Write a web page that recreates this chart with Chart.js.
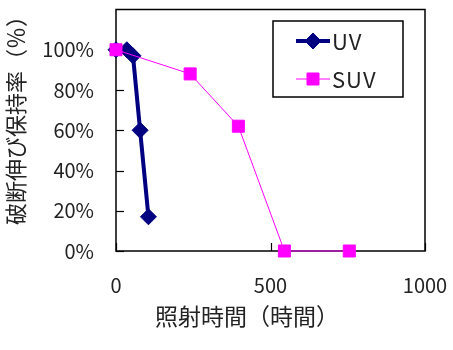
<!DOCTYPE html>
<html>
<head>
<meta charset="utf-8">
<script src="https://cdn.jsdelivr.net/npm/chart.js@4/dist/chart.umd.min.js"></script>
<style>
  html, body { margin: 0; padding: 0; background: #fff; }
  #wrap { width: 453px; height: 350px; }
</style>
</head>
<body>
<div id="wrap"><canvas id="c" width="453" height="350"></canvas></div>
<script>
// Data
const seriesNames = ['UV', 'SUV'];
const uvHours = [0, 35, 55, 78, 105];
const uvRetention = [100, 100, 97, 60, 17];
const suvHours = [0, 240, 396, 545, 755];
const suvRetention = [100, 88, 62, 0, 0];
const xTicks = [0, 500, 1000];
const yTicks = [0, 20, 40, 60, 80, 100];
const xTitle = '照射時間（時間）';
const yTitle = '破断伸び保持率（％）';

const FONT = '"Noto Sans CJK JP", "Noto Sans", sans-serif';
const UV_COLOR = '#000080';
const SUV_COLOR = '#FF00FF';

const toPoints = (xs, ys) => xs.map((x, i) => ({ x: x, y: ys[i] }));

const decor = {
  id: 'decor',
  beforeDatasetsDraw(chart) {
    const { ctx, chartArea: a, scales } = chart;
    ctx.save();
    ctx.strokeStyle = '#000';
    ctx.lineWidth = 1.5;
    ctx.strokeRect(a.left, a.top, a.right - a.left, a.bottom - a.top);
    ctx.lineWidth = 1.2;
    // inside tick marks
    yTicks.forEach(v => {
      const y = Math.round(scales.y.getPixelForValue(v)) + 0.5;
      ctx.beginPath(); ctx.moveTo(a.left, y); ctx.lineTo(a.left + 8, y); ctx.stroke();
    });
    xTicks.forEach(v => {
      const x = Math.round(scales.x.getPixelForValue(v)) + 0.5;
      ctx.beginPath(); ctx.moveTo(x, a.bottom); ctx.lineTo(x, a.bottom - 8); ctx.stroke();
    });
    ctx.restore();
  },
  afterDraw(chart) {
    const { ctx } = chart;
    ctx.save();
    ctx.fillStyle = '#222';
    // axis titles
    ctx.font = '23px ' + FONT;
    ctx.textAlign = 'center';
    ctx.textBaseline = 'middle';
    ctx.fillText(xTitle, 247, 316);
    ctx.save();
    ctx.font = '22px ' + FONT;
    ctx.translate(16, 115);
    ctx.rotate(-Math.PI / 2);
    ctx.fillText(yTitle, 0, 0);
    ctx.restore();

    // legend
    const lx = 273, ly = 21, lw = 130, lh = 76;
    ctx.fillStyle = '#fff';
    ctx.fillRect(lx, ly, lw, lh);
    ctx.strokeStyle = '#000';
    ctx.lineWidth = 1.5;
    ctx.strokeRect(lx, ly, lw, lh);
    const ds = chart.data.datasets;
    const rows = [41, 79];
    ds.forEach((d, i) => {
      const y = rows[i];
      ctx.strokeStyle = d.borderColor;
      ctx.lineWidth = d.borderWidth;
      ctx.beginPath(); ctx.moveTo(296, y); ctx.lineTo(330, y); ctx.stroke();
      ctx.fillStyle = d.backgroundColor;
      ctx.strokeStyle = d.borderColor;
      ctx.lineWidth = 1;
      Chart.helpers.drawPoint(ctx, { pointStyle: d.pointStyle, radius: d.pointRadius, borderWidth: 1 }, 313, y);
      ctx.fillStyle = '#222';
      ctx.font = '22px ' + FONT;
      ctx.textAlign = 'left';
      ctx.letterSpacing = '1px';
      ctx.fillText(d.label, 332, y + 1);
    });
    ctx.restore();
  }
};

function noPad(s) {
  s.paddingTop = 0; s.paddingBottom = 0; s.paddingLeft = 0; s.paddingRight = 0;
}

new Chart(document.getElementById('c'), {
  type: 'scatter',
  data: {
    datasets: [
      {
        label: seriesNames[0],
        data: toPoints(uvHours, uvRetention),
        showLine: true,
        borderColor: UV_COLOR,
        backgroundColor: UV_COLOR,
        borderWidth: 4,
        pointStyle: 'rectRot',
        pointRadius: 8,
        pointBorderWidth: 1,
        order: 1,
        clip: false
      },
      {
        label: seriesNames[1],
        data: toPoints(suvHours, suvRetention),
        showLine: true,
        borderColor: SUV_COLOR,
        backgroundColor: SUV_COLOR,
        borderWidth: 1,
        pointStyle: 'rect',
        pointRadius: 8.5,
        pointBorderWidth: 1,
        order: 0,
        clip: false
      }
    ]
  },
  options: {
    responsive: false,
    animation: false,
    events: [],
    layout: { padding: { left: 0, right: 28, top: 9, bottom: 0 } },
    plugins: { legend: { display: false }, tooltip: { enabled: false } },
    scales: {
      x: {
        type: 'linear',
        min: 0, max: 1000,
        afterBuildTicks(s) { s.ticks = xTicks.map(v => ({ value: v })); },
        ticks: { padding: 22, color: '#222', font: { family: FONT, size: 20 }, maxRotation: 0, callback: v => String(v) },
        grid: { display: false, drawTicks: false },
        border: { display: false },
        afterFit(s) { s.height = 99; noPad(s); }
      },
      y: {
        min: 0, max: 120,
        afterBuildTicks(s) { s.ticks = yTicks.map(v => ({ value: v })); },
        ticks: { padding: 22, color: '#222', font: { family: FONT, size: 20 }, callback: v => v + '%' },
        grid: { display: false, drawTicks: false },
        border: { display: false },
        afterFit(s) { s.width = 116; noPad(s); }
      }
    }
  },
  plugins: [decor]
});
</script>
</body>
</html>
